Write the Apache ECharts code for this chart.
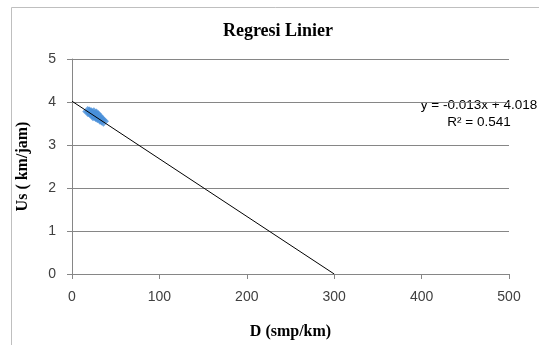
<!DOCTYPE html>
<html><head><meta charset="utf-8">
<script src="https://cdn.jsdelivr.net/npm/echarts@6/dist/echarts.min.js"></script>
<style>html,body{margin:0;padding:0;background:#fff}#c{width:539px;height:345px}</style>
</head><body><div id="c"></div>
<script>
var titleText = 'Regresi Linier';
var xName = 'D (smp/km)';
var yName = 'Us ( km/jam)';
var xTicks = [0, 100, 200, 300, 400, 500];
var yTicks = [0, 1, 2, 3, 4, 5];
var observedD = [18, 20, 22, 23, 24, 25, 26, 27, 28, 29, 30, 32, 34, 36];
var observedUs = [3.78, 3.77, 3.75, 3.72, 3.68, 3.75, 3.70, 3.66, 3.72, 3.64, 3.68, 3.60, 3.58, 3.55];
var trendD = [0, 300];
var trendUs = [4.018, 0];
var eqLine1 = 'y = -0.013x + 4.018';
var eqLine2 = 'R² = 0.541';

var chart = echarts.init(document.getElementById('c'));
var serif = 'Liberation Serif';
var sans = 'Liberation Sans';
chart.setOption({
  animation: false,
  grid: { left: 72, right: 30, top: 59, bottom: 68 },
  xAxis: {
    type: 'value', min: xTicks[0], max: xTicks[xTicks.length-1], interval: 100,
    name: xName, nameLocation: 'middle', nameGap: 50,
    nameTextStyle: { fontFamily: serif, fontSize: 16, fontWeight: 'bold', color: '#000' },
    axisLine: { show: true, lineStyle: { color: '#868686' } },
    axisTick: { show: true, length: 5, lineStyle: { color: '#868686' } },
    axisLabel: { fontFamily: sans, fontSize: 14, color: '#404040', margin: 16 },
    splitLine: { show: false }
  },
  yAxis: {
    type: 'value', min: yTicks[0], max: yTicks[yTicks.length-1], interval: 1,
    name: yName, nameLocation: 'middle', nameGap: 41,
    nameTextStyle: { fontFamily: serif, fontSize: 16, fontWeight: 'bold', color: '#000' },
    axisLine: { show: true, lineStyle: { color: '#868686' } },
    axisTick: { show: true, length: 5, lineStyle: { color: '#868686' } },
    axisLabel: { fontFamily: sans, fontSize: 14, color: '#404040', margin: 16 },
    splitLine: { show: true, lineStyle: { color: '#868686' } }
  },
  graphic: [
    { type: 'rect', shape: { x: 11.5, y: 7.5, width: 600, height: 400 }, style: { fill: 'none', stroke: '#bfbfbf', lineWidth: 1 }, silent: true, z: -10 },
    { type: 'text', x: 278, y: 22, style: { text: titleText, textAlign: 'center', fontFamily: serif, fontSize: 18, fontWeight: 'bold', fill: '#000' } },
    { type: 'text', x: 479, y: 97, style: { text: eqLine1 + '\n' + eqLine2, textAlign: 'center', fontFamily: sans, fontSize: 13.5, lineHeight: 17, fill: '#000' } }
  ],
  series: [
    { type: 'scatter', symbol: 'diamond', symbolSize: 11,
      itemStyle: { color: '#4a90d9' },
      data: observedD.map(function (d, i) { return [d, observedUs[i]]; }), z: 2 },
    { type: 'line', symbol: 'none', lineStyle: { color: '#000', width: 1 },
      data: trendD.map(function (d, i) { return [d, trendUs[i]]; }), z: 3 }
  ]
});
</script></body></html>
